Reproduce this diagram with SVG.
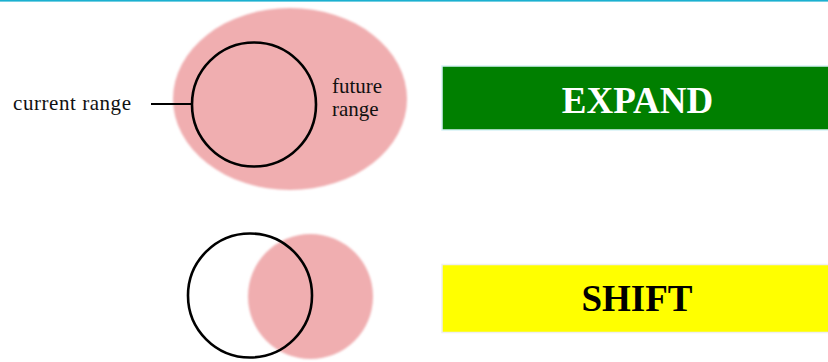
<svg xmlns="http://www.w3.org/2000/svg" width="828" height="362" viewBox="0 0 828 362">
<defs>
<filter id="soft" x="-10%" y="-10%" width="120%" height="120%"><feGaussianBlur stdDeviation="0.8"/></filter>
</defs>
<style>
.pink{fill:#f0aeb0}
.ring{fill:none;stroke:#000;stroke-width:2.6}
.lbl{font-family:"Liberation Serif","Times New Roman",serif;font-size:21px;fill:#111}
.big{font-family:"Liberation Serif","Times New Roman",serif;font-size:37px;font-weight:bold;text-anchor:middle}
</style>
<rect x="0" y="0" width="828" height="1.6" fill="#1bb0d0"/>
<g id="future-range">
<ellipse class="pink" cx="290" cy="99" rx="117" ry="91" filter="url(#soft)"/>
<text class="lbl" x="332" y="93">future</text>
<text class="lbl" x="332" y="116">range</text>
</g>
<g id="current-range">
<circle class="ring" cx="254" cy="104.5" r="62"/>
<text class="lbl" x="13" y="110" textLength="118">current range</text>
</g>
<g id="connectors">
<line x1="151" y1="104" x2="192" y2="104" stroke="#000" stroke-width="2.2"/>
</g>
<g id="shift-shapes">
<circle class="pink" cx="310.5" cy="296.5" r="62.5" filter="url(#soft)"/>
<circle class="ring" cx="250" cy="295.5" r="62"/>
</g>
<g id="expand">
<rect x="442" y="66" width="388" height="64" fill="#007f00" stroke="#d6f2f6" stroke-width="1.5"/>
<text class="big" x="637.5" y="113" fill="#fff">EXPAND</text>
</g>
<g id="shift">
<rect x="442" y="264.5" width="388" height="68" fill="#ffff00" stroke="#efefef" stroke-width="1.5"/>
<text class="big" x="637" y="311" fill="#000">SHIFT</text>
</g>
</svg>
